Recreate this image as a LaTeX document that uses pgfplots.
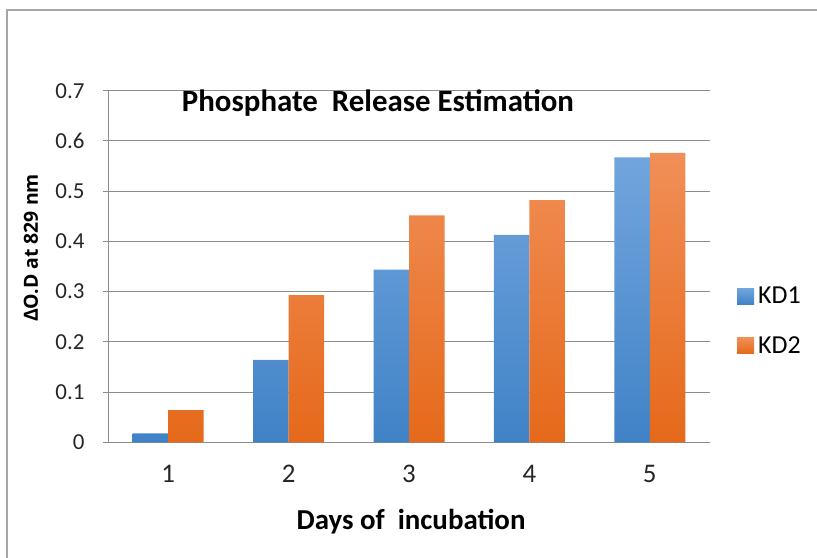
\documentclass[border=0pt]{standalone}
\usepackage{pgfplots}
\pgfplotsset{compat=1.18}
\usepackage{fontspec}
\setmainfont{Carlito}
\newfontfamily\osb{Open Sans}
\definecolor{blueT}{HTML}{72A5DD}
\definecolor{blueB}{HTML}{4082C7}
\definecolor{orT}{HTML}{F18F58}
\definecolor{orB}{HTML}{E5691A}
\definecolor{gridc}{HTML}{8C8C8C}
\begin{document}
\begin{tikzpicture}[x=1bp,y=1bp]
\path[use as bounding box] (0,0) rectangle (817,558);
\draw[gray!70, line width=1.2bp] (7,0) -- (7,548) -- (817,548);
\coordinate (O) at (108,115.7);
\begin{axis}[
  at={(O)}, anchor=south west,
  scale only axis, width=602bp, height=351.6bp,
  ybar=0pt, bar width=35.5bp,
  xmin=0.5, xmax=5.5, ymin=0, ymax=0.7,
  xtick={1,2,3,4,5}, xticklabels={1,2,3,4,5},
  ytick={0,0.1,...,0.7},
  yticklabels={0,0.1,0.2,0.3,0.4,0.5,0.6,0.7},
  axis x line*=bottom, axis y line*=left,
  axis line style={gridc, line width=0.9bp, -},
  ymajorgrids, grid style={gridc, line width=0.9bp},
  xtick style={draw=none},
  ytick style={gridc, line width=0.9bp},
  ytick align=outside, major tick length=5bp,
  yticklabel style={font=\fontsize{23}{24}\selectfont, text=black!85, xshift=-15bp},
  xticklabel style={font=\fontsize{27}{28}\selectfont, text=black!85, yshift=-14bp},
  /pgf/number format/assume math mode=true,
  legend style={at={(1,0.345)}, anchor=west, xshift=27bp, draw=none, fill=none,
    font=\fontsize{26}{28}\selectfont, row sep=27bp, inner sep=0pt,
    nodes={inner xsep=4bp}},
  legend image code/.code={\fill[#1] (0bp,-8bp) rectangle (17bp,8bp);},
  legend cell align=left,
]
\addplot[draw=none, top color=blueT, bottom color=blueB] coordinates {(1,0.018) (2,0.164) (3,0.344) (4,0.413) (5,0.567)};
\addplot[draw=none, top color=orT, bottom color=orB] coordinates {(1,0.064) (2,0.293) (3,0.452) (4,0.482) (5,0.576)};
\legend{KD1,KD2}
\end{axis}
\node[font=\fontsize{31}{34}\selectfont\bfseries] at (378,455) {Phosphate~ Release Estimation};
\node[font=\fontsize{29}{32}\selectfont\bfseries] at (411,36) {Days of~ incubation};
\node[rotate=90, font=\osb\fontsize{19.5}{21}\selectfont\bfseries] at (31,310) {ΔO.D at 829 nm};
\end{tikzpicture}
\end{document}
